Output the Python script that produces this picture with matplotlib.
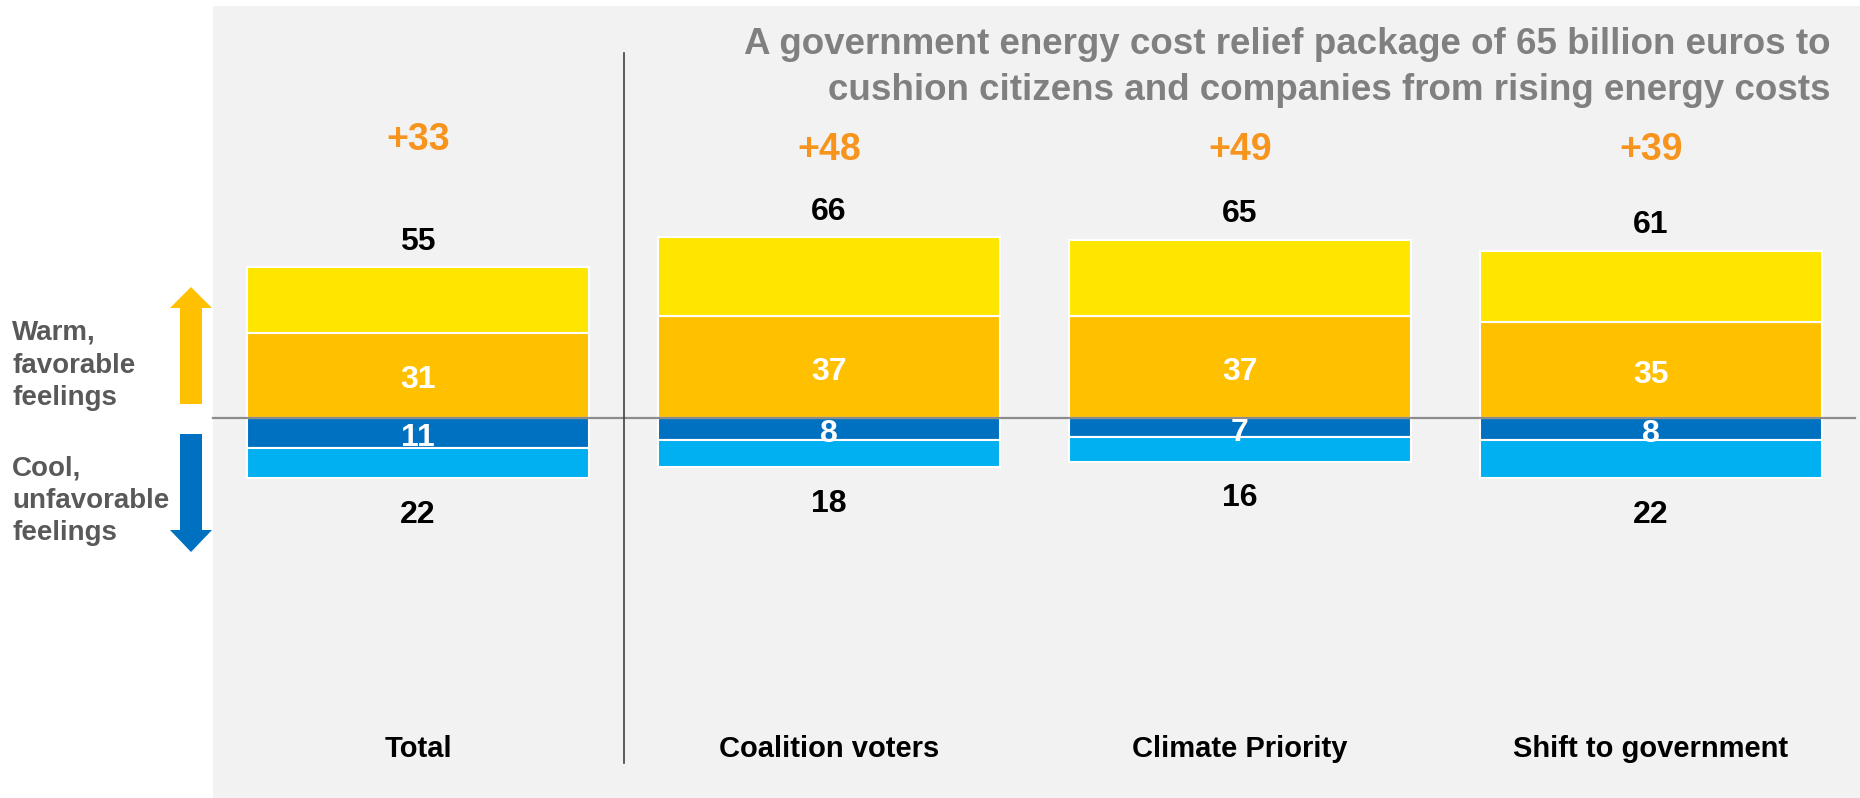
import matplotlib
matplotlib.use('Agg')
import matplotlib.pyplot as plt
from matplotlib.patches import Rectangle, FancyArrow

plt.rcParams['font.family'] = ['Liberation Sans', 'DejaVu Sans']

# data
categories = ['Total', 'Coalition voters', 'Climate Priority', 'Shift to government']
very_warm = [24, 29, 28, 26]      # yellow, top segment
warm = [31, 37, 37, 35]           # orange, labelled inside
cool = [11, 8, 7, 8]              # dark blue, labelled inside
very_cool = [11, 10, 9, 14]       # light blue, bottom segment
favorable_total = [55, 66, 65, 61]
unfavorable_total = [22, 18, 16, 22]
net_labels = ['+33', '+48', '+49', '+39']

title_lines = ['A government energy cost relief package of 65 billion euros to',
               'cushion citizens and companies from rising energy costs']

YELLOW = '#FFE600'
ORANGE = '#FFC000'
DARK_BLUE = '#0070C0'
LIGHT_BLUE = '#00B0F0'
NET_ORANGE = '#F7941D'

W, H = 1860, 798
fig = plt.figure(figsize=(W / 100, H / 100), dpi=100)

# decoration layer in pixel coordinates
deco = fig.add_axes([0, 0, 1, 1], zorder=0)
deco.set_xlim(0, W)
deco.set_ylim(H, 0)
deco.axis('off')
deco.add_patch(Rectangle((213, 6), W - 213, H - 6, color='#F2F2F2', lw=0))
deco.add_patch(FancyArrow(191, 404, 0, -117, width=22, head_width=42,
                          head_length=21, length_includes_head=True,
                          color=ORANGE, lw=0))
deco.add_patch(FancyArrow(191, 434, 0, 118, width=22, head_width=42,
                          head_length=22, length_includes_head=True,
                          color=DARK_BLUE, lw=0))
for y, s in zip([330, 363, 395], ['Warm,', 'favorable', 'feelings']):
    deco.text(12, y, s, fontsize=20, fontweight='bold', color='#595959',
              ha='left', va='center_baseline')
for y, s in zip([465, 498, 530], ['Cool,', 'unfavorable', 'feelings']):
    deco.text(12, y, s, fontsize=20, fontweight='bold', color='#595959',
              ha='left', va='center_baseline')
for y, s in zip([40, 86], title_lines):
    deco.text(1830, y, s, fontsize=26.5, fontweight='bold', color='#808080',
              ha='right', va='center_baseline')

# chart layer
ax = fig.add_axes([0, 0, 1, 1], zorder=1)
ax.patch.set_alpha(0)
ax.axis('off')
px_x = 411.0     # pixels per category
px_y = 2.745     # pixels per percentage point
ax.set_xlim(-418 / px_x, (W - 418) / px_x)
ax.set_ylim(-(H - 418) / px_y, 418 / px_y)

x = list(range(len(categories)))
bw = 0.832
kw = dict(width=bw, edgecolor='white', linewidth=1.5, zorder=2)
ax.bar(x, warm, color=ORANGE, **kw)
ax.bar(x, very_warm, bottom=warm, color=YELLOW, **kw)
ax.bar(x, [-v for v in cool], color=DARK_BLUE, **kw)
ax.bar(x, [-v for v in very_cool], bottom=[-v for v in cool], color=LIGHT_BLUE, **kw)

ax.axhline(0, xmin=213 / W, xmax=1855 / W, color='#8C8C8C', lw=1.6, zorder=3)
ax.axvline(0.5, ymin=(H - 763) / H, ymax=(H - 53) / H, color='#404040', lw=1.2, zorder=3)

dy = -1.8  # nudge labels so the digits sit visually centred
for i in x:
    ax.text(i, warm[i] / 2 + dy, str(warm[i]), fontsize=23, fontweight='bold',
            color='white', ha='center', va='center', zorder=4)
    ax.text(i, -cool[i] / 2 + dy, str(cool[i]), fontsize=23, fontweight='bold',
            color='white', ha='center', va='center', zorder=4)
    ax.text(i, favorable_total[i] + 11 + dy, str(favorable_total[i]), fontsize=23,
            fontweight='bold', color='black', ha='center', va='center')
    ax.text(i, -unfavorable_total[i] - 11.5 + dy, str(unfavorable_total[i]), fontsize=23,
            fontweight='bold', color='black', ha='center', va='center')
    net_y = 103 if i == 0 else 99.3
    ax.text(i, net_y + dy, net_labels[i], fontsize=27, fontweight='bold',
            color=NET_ORANGE, ha='center', va='center')
    ax.text(i, -118.8 + dy, categories[i], fontsize=21, fontweight='bold',
            color='black', ha='center', va='center')

fig.savefig('out.png', dpi=100)
plt.close(fig)
